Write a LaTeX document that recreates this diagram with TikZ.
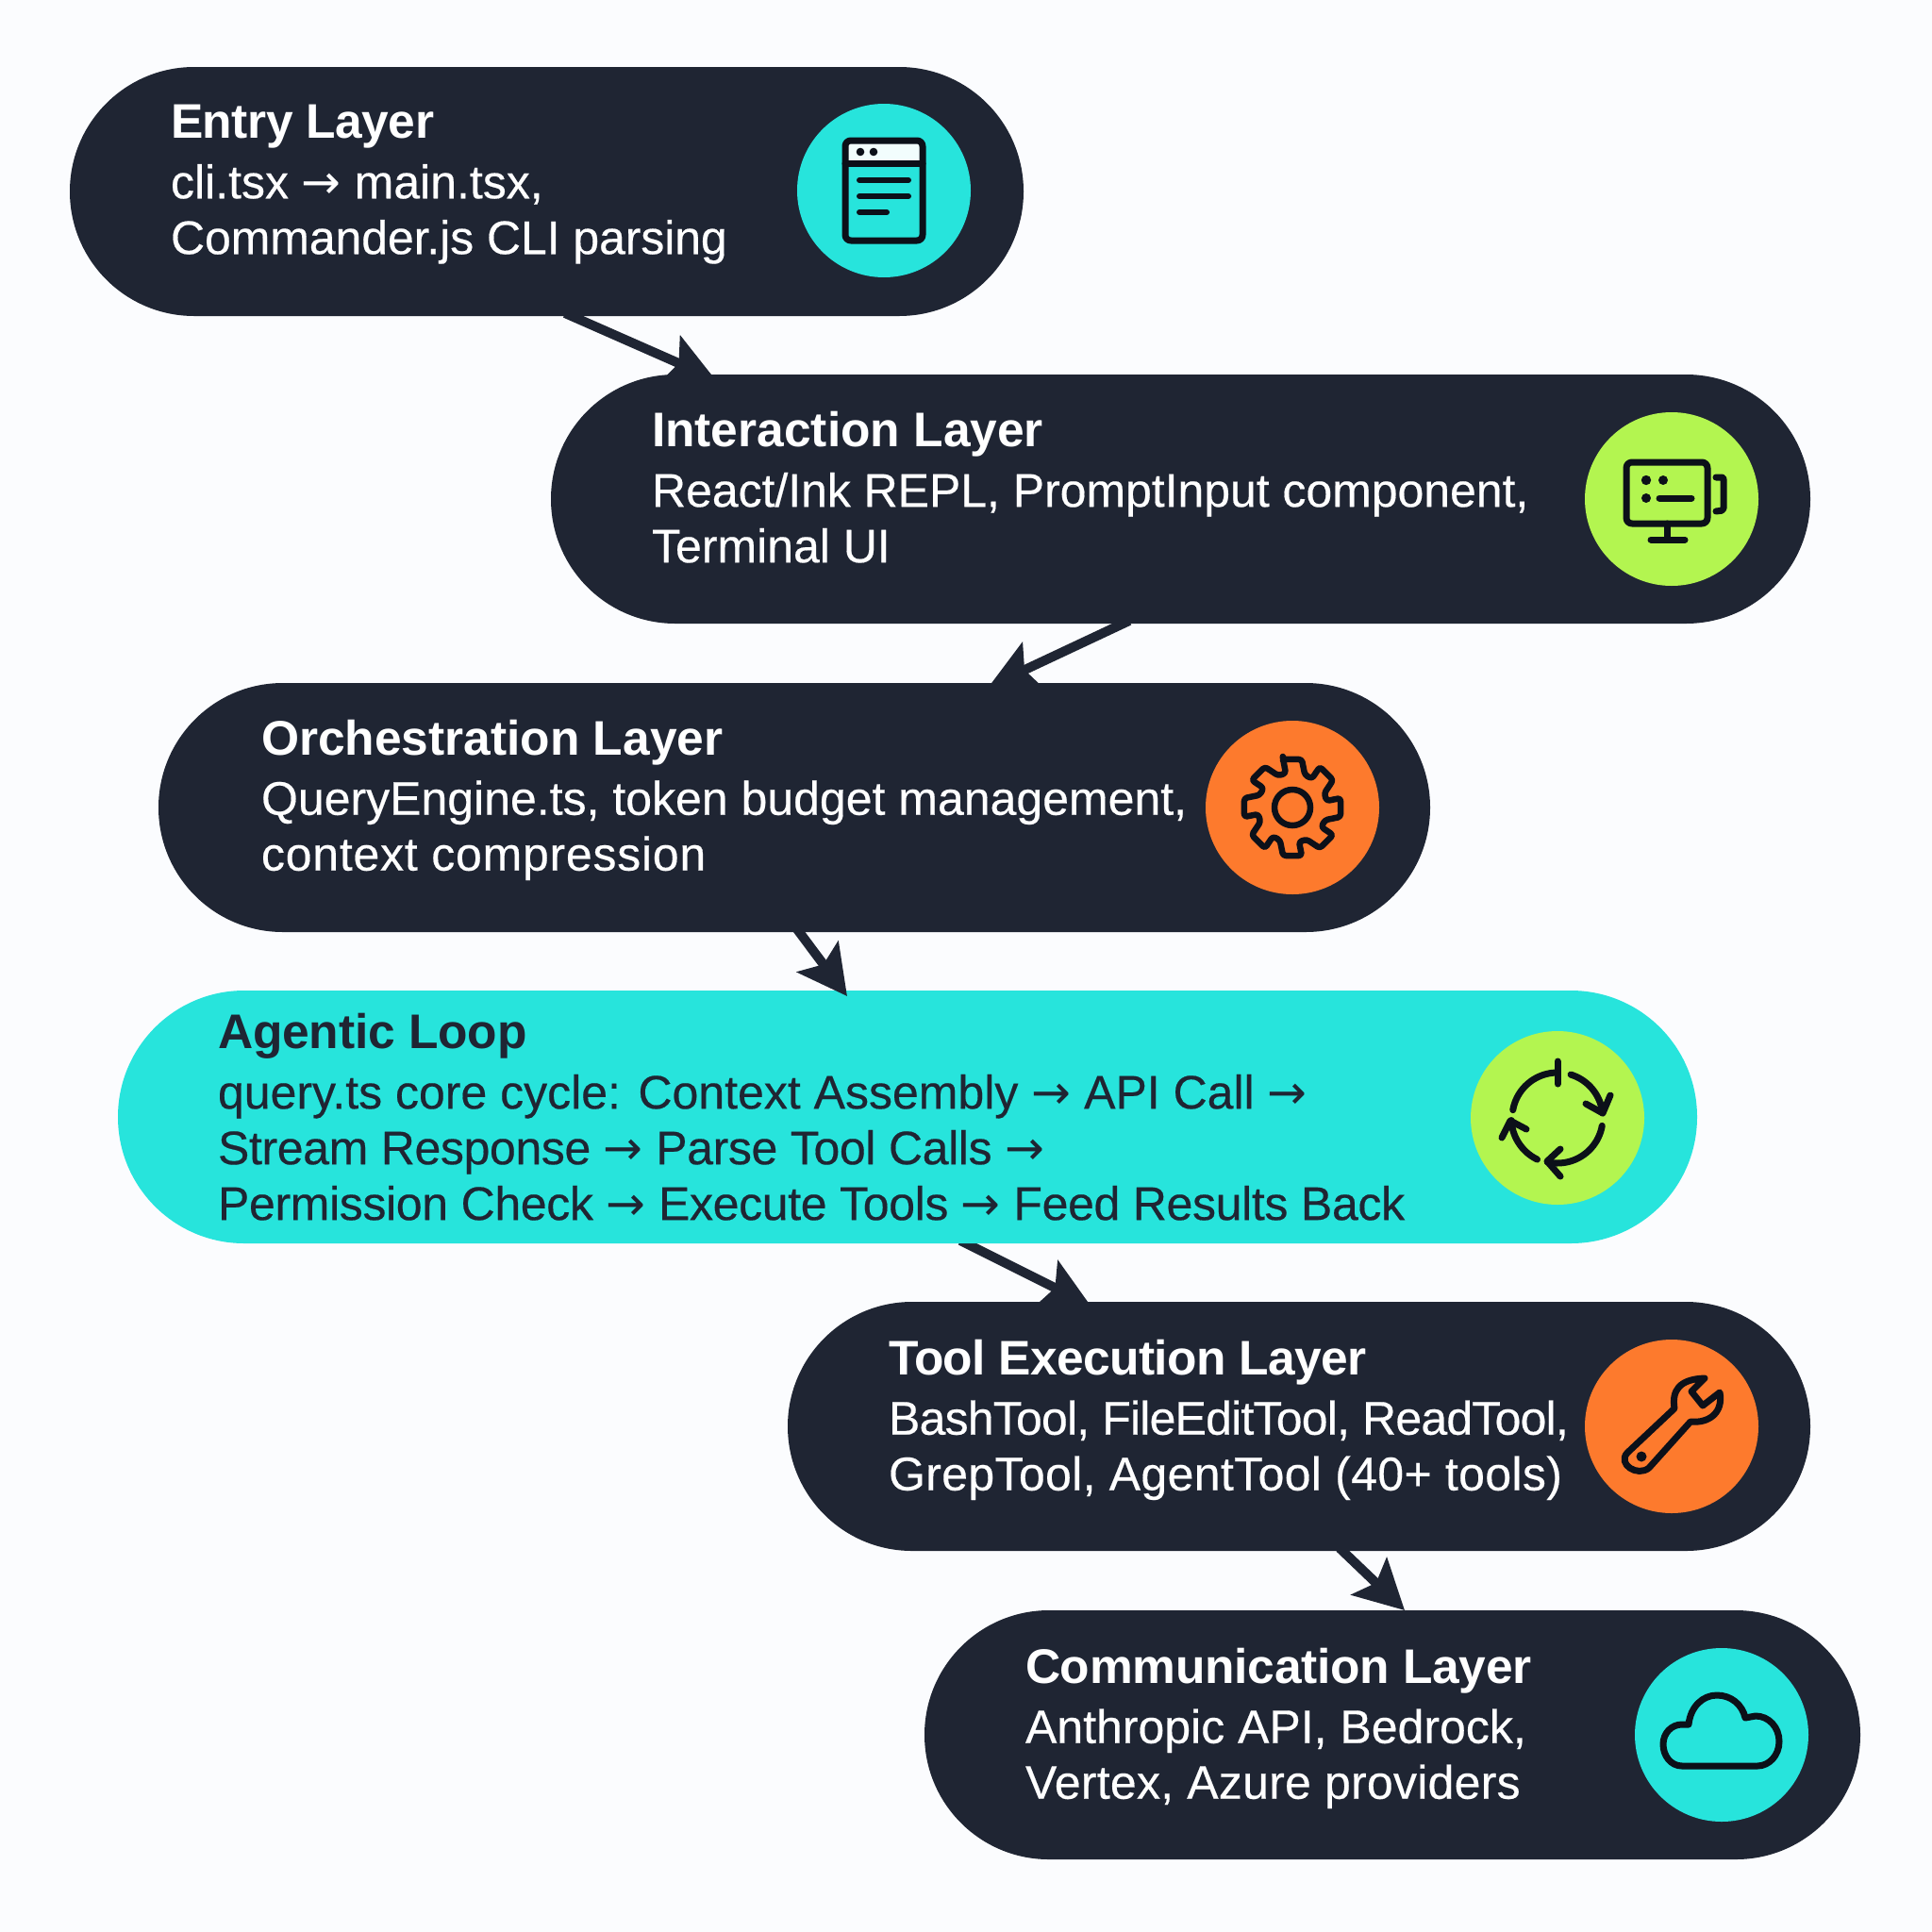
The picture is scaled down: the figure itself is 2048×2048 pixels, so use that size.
\documentclass[tikz,border=0pt]{standalone}
\usepackage{fontspec}
\setmainfont{Liberation Sans}[FakeBold=0.35,BoldFeatures={FakeBold=0}]
\newfontfamily\arrowfont{DejaVu Sans}
\usetikzlibrary{arrows.meta,calc,backgrounds}
\definecolor{pagebg}{HTML}{FBFCFE}
\definecolor{darkpill}{HTML}{1F2533}
\definecolor{teal}{HTML}{27E4DC}
\definecolor{lime}{HTML}{B3F550}
\definecolor{orange}{HTML}{FD7A2D}
\definecolor{ink}{HTML}{0C1019}
\tikzset{
  x=1pt,y=-1pt,
  pill/.style={anchor=north west,inner sep=0pt,outer sep=0pt,fill=darkpill,rounded corners=131.9pt,minimum height=264pt},
  tealpill/.style={pill,fill=teal,rounded corners=133.9pt,minimum height=268pt},
  badge/.style={circle,inner sep=0pt,outer sep=0pt,minimum size=184pt},
  label/.style={anchor=west,inner sep=0pt,outer sep=0pt,align=left,text=white,font=\fontsize{50}{59}\selectfont},
  flow/.style={draw=darkpill,line width=10pt,-{Stealth[length=52pt,width=54pt,inset=10pt]}},
  glyph/.style={draw=ink,line width=7pt,line cap=round,line join=round},
}
\newcommand{\ttl}[2][0]{{\fontsize{51.5}{59}\selectfont\bfseries\addfontfeature{LetterSpace=#1}#2}\\[4.5pt]}
\newcommand{\arr}{{\arrowfont →}}
\newcommand{\track}[2]{{\addfontfeature{LetterSpace=#1}#2}}
\begin{document}
\begin{tikzpicture}
\useasboundingbox (0,0) rectangle (2048,2048);
\begin{scope}[on background layer]
  \fill[pagebg] (0,0) rectangle (2048,2048);
\end{scope}
% pills
\node[pill,minimum width=1011pt] (entry) at (74,71) {};
\node[pill,minimum width=1335pt] (inter) at (584,397) {};
\node[pill,minimum width=1348pt] (orch) at (168,724) {};
\node[tealpill,minimum width=1674pt] (agent) at (125,1050) {};
\node[pill,minimum width=1084pt] (tool) at (835,1380) {};
\node[pill,minimum width=992pt] (comm) at (980,1707) {};
% connectors
\draw[flow] ($(entry.south west)+(525,-3)$) -- ($(inter.north west)+(174,5)$);
\draw[flow] ($(inter.south west)+(613,-3)$) -- ($(orch.north west)+(880,4)$);
\draw[flow] ($(orch.south west)+(677,-3)$) -- ($(agent.north west)+(773,6)$);
\begin{scope}[on background layer]
\draw[flow] ($(agent.south west)+(893,-3)$) -- ($(tool.north west)+(321,4)$);
\end{scope}
\draw[flow] ($(tool.south west)+(585,-3)$) -- ($(comm.north west)+(509,0)$);
% badges
\node[badge,fill=teal] (b1) at (937,202) {};
\node[badge,fill=lime] (b2) at (1772,529) {};
\node[badge,fill=orange] (b3) at (1370,856) {};
\node[badge,fill=lime] (b4) at (1651,1185) {};
\node[badge,fill=orange] (b5) at (1772,1512) {};
\node[badge,fill=teal] (b6) at (1825,1839) {};
% text
\node[label] (t1) at (181,195.5) {\ttl[-0.9]{Entry Layer}cli.tsx \arr{} main.tsx,\\\track{-0.2}{Commander.js CLI parsing}};
\node[label] (t2) at (691,516.5) {\ttl{Interaction Layer}\track{-0.1}{React/Ink REPL, PromptInput component,}\\Terminal UI};
\node[label] (t3) at (277,848) {\ttl{Orchestration Layer}QueryEngine.ts, token budget management,\\\track{1.5}{context compression}};
\node[label,text=darkpill] (t4) at (231,1184) {\ttl[-0.3]{Agentic Loop}query.ts core cycle: Context Assembly \arr{} API Call \arr{}\\\track{-0.75}{Stream Response \arr{} Parse Tool Calls \arr{}}\\\track{-0.7}{Permission Check \arr{} Execute Tools \arr{} Feed Results Back}};
\node[label] (t5) at (942,1505) {\ttl[-1.2]{Tool Execution Layer}\track{-1.6}{BashTool, FileEditTool, ReadTool,}\\\track{0.7}{GrepTool, AgentTool (40+ tools)}};
\node[label] (t6) at (1087,1832) {\ttl[-0.5]{Communication Layer}Anthropic API, Bedrock,\\\track{0.5}{Vertex, Azure providers}};
% icon: document
\begin{scope}[shift={(b1.center)}]
  \fill[white!94!teal] (-41,-53) rectangle (41,-29);
  \draw[glyph,rounded corners=6pt] (-41,-53) rectangle (41,53);
  \draw[glyph] (-41,-29) -- (41,-29);
  \fill[ink] (-25,-41) circle[radius=4.3] (-11,-41) circle[radius=4.3];
  \draw[glyph,line width=6pt] (-26,-11) -- (26,-11) (-26,6) -- (26,6) (-26,23) -- (3,23);
\end{scope}
% icon: monitor
\begin{scope}[shift={(b2.center)}]
  \draw[glyph,rounded corners=6pt] (-48,-39) rectangle (38,26);
  \draw[glyph] (-5,26) -- (-5,43);
  \draw[glyph] (-22,43) -- (14,43);
  \fill[ink] (-27,-20) circle[radius=5.2] (-9,-20) circle[radius=5] (-27,-1) circle[radius=5];
  \draw[glyph] (-13,-1) -- (21,-1);
  \draw[glyph,rounded corners=2pt] (47,-23) -- (55,-23) -- (55,12) -- (47,13);
\end{scope}
% icon: gear
\begin{scope}[shift={(b3.center)}]
  \draw[glyph,line width=6.5pt,rounded corners=3pt]
    (-10,-52) \foreach \a in {0,45,...,315} {
      -- (\a-101:52) -- (\a-79:52) -- (\a-69:37) -- (\a-56:37)
    } -- cycle;
  \draw[ink,line width=6.5pt] (0,0) circle[radius=19];
\end{scope}
% icon: loop
\begin{scope}[shift={(b4.center)}]
  \draw[glyph] plot[domain=-170:-91,samples=24] ({48*cos(\x)},{48*sin(\x)});
  \draw[glyph] (0,-60) -- (0,-36);
  \draw[glyph] plot[domain=-73:-6,samples=24] ({48*cos(\x)},{48*sin(\x)});
  \draw[glyph] (56,-24) -- (48,-5) -- (30,-15);
  \draw[glyph] plot[domain=10:103,samples=24] ({48*cos(\x)},{48*sin(\x)});
  \draw[glyph] (3,33) -- (-11,46) -- (3,62);
  \draw[glyph] plot[domain=116:177,samples=24] ({49*cos(\x)},{49*sin(\x)});
  \draw[glyph] (-33,12) -- (-50,3) -- (-59,21);
\end{scope}
% icon: wrench
\begin{scope}[shift={(b5.center)}]
  \draw[glyph] (-47,28) -- (3,-19) .. controls (0,-38) and (8,-50) .. (35,-51)
    -- (21,-37) -- (33,-22) -- (51,-36) .. controls (55,-15) and (40,-3) .. (20,-5)
    -- (-24,44) .. controls (-36,54) and (-58,40) .. (-47,28) -- cycle;
  \fill[ink] (-32,32) circle[radius=5.5];
\end{scope}
% icon: cloud
\begin{scope}[shift={(b6.center)}]
  \draw[glyph] (-42,33) .. controls (-54,33) and (-62,22) .. (-62,10)
    .. controls (-62,-2) and (-53,-11) .. (-42,-11) -- (-35,-11)
    .. controls (-33,-30) and (-20,-42) .. (-5,-42)
    .. controls (10,-42) and (22,-32) .. (25,-18)
    -- (36,-20) .. controls (50,-20) and (61,-8) .. (61,7)
    .. controls (61,22) and (50,33) .. (38,33) -- cycle;
\end{scope}
\end{tikzpicture}
\end{document}
